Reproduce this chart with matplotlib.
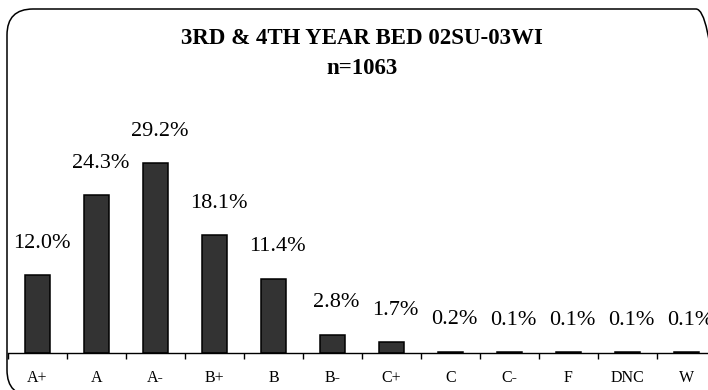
import matplotlib
matplotlib.use("Agg")
from matplotlib import pyplot as plt
from matplotlib.patches import FancyBboxPatch
from matplotlib.transforms import IdentityTransform
import numpy as np

grades = ["A+", "A", "A-", "B+", "B", "B-", "C+", "C", "C-", "F", "DNC", "W"]
percents = [12.0, 24.3, 29.2, 18.1, 11.4, 2.8, 1.7, 0.2, 0.1, 0.1, 0.1, 0.1]
title = "3RD & 4TH YEAR BED 02SU-03WI"
subtitle = "n=1063"

W, H = 708, 390
fig = plt.figure(figsize=(W / 100, H / 100), dpi=100)

# axes runs a bit past the right edge, like the original
ax = fig.add_axes([8 / W, 37 / H, 708 / W, 260 / H])
x = np.arange(len(grades))
ax.bar(x, percents, width=0.44, color="#333333", edgecolor="black", linewidth=1.1)

for xi, p in zip(x, percents):
    ax.annotate("{:.1f}%".format(p), (xi, p), xytext=(3, 23), textcoords="offset points",
                ha="center", va="center", fontsize=16, family="Liberation Serif")

ax.set_xlim(-0.5, len(grades) - 0.5)
ax.set_ylim(0, 40)
ax.set_xticks(x)
ax.set_xticklabels(grades, fontsize=11.5, family="Liberation Serif")
ax.set_xticks(np.append(x - 0.5, x[-1] + 0.5), minor=True)
ax.tick_params(axis="x", which="major", length=0, pad=12)
ax.tick_params(axis="x", which="minor", length=4, width=1, direction="out")
ax.set_yticks([])
for s in ["left", "right", "top"]:
    ax.spines[s].set_visible(False)
ax.spines["bottom"].set_linewidth(1)
ax.patch.set_alpha(0)

fig.text(362 / W, 1 - 38 / H, title, ha="center", va="center", fontsize=16.5,
         fontweight="bold", family="Liberation Serif")
fig.text(362 / W, 1 - 69 / H, subtitle, ha="center", va="center", fontsize=16.5,
         fontweight="bold", family="Liberation Serif")

# rounded frame around the chart
frame = FancyBboxPatch((7, -6), 715, 387, boxstyle="round,pad=0,rounding_size=26",
                       transform=IdentityTransform(), fill=False, edgecolor="black", linewidth=1.1)
fig.add_artist(frame)

fig.savefig("out.png", dpi=100)
